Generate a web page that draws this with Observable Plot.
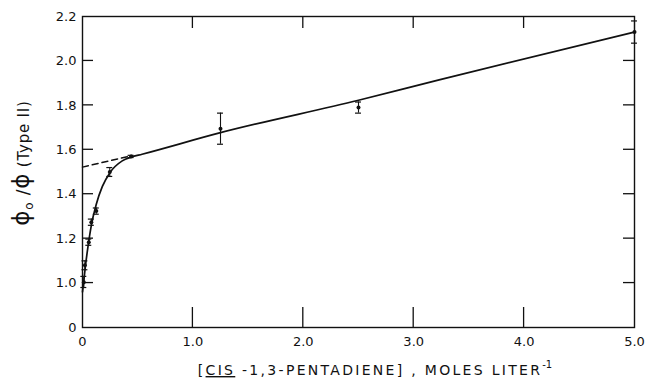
<!DOCTYPE html>
<html><head><meta charset="utf-8">
<script src="https://cdn.jsdelivr.net/npm/d3@7"></script>
<script src="https://cdn.jsdelivr.net/npm/@observablehq/plot@0.6"></script>
<style>body{margin:0;background:#fff;} svg{display:block;}</style>
</head><body><div id="chart"></div>
<script>
// Measured points (concentration, phi0/phi) with error bar ends
const ptX  = [0.012, 0.022, 0.057, 0.080, 0.125, 0.247, 0.44, 1.25, 2.50, 5.00];
const ptY  = [1.004, 1.080, 1.184, 1.274, 1.324, 1.500, 1.570, 1.695, 1.790, 2.130];
const errLo= [0.980, 1.060, 1.170, 1.260, 1.310, 1.480, 1.565, 1.625, 1.765, 2.080];
const errHi= [1.030, 1.100, 1.198, 1.288, 1.338, 1.520, 1.575, 1.765, 1.815, 2.180];
// Solid fitted curve
const curveX = [0.000, 0.012, 0.025, 0.050, 0.080, 0.125, 0.180, 0.250, 0.360, 0.440, 0.540, 1.25, 2.50, 3.23, 5.00];
const curveY = [0.960, 1.010, 1.070, 1.165, 1.260, 1.355, 1.435, 1.498, 1.550, 1.567, 1.580, 1.677, 1.823, 1.915, 2.130];
// Dashed extrapolation
const dashX = [0.00, 0.45];
const dashY = [1.522, 1.574];
// Axes
const xDomain = [0, 5];
const yDomain = [0.8, 2.2];
const xTickLabels = [0, 1, 2, 3, 4, 5];
const xTickMarks = [1, 2, 3, 4];
const yTickLabels = [0.8, 1.0, 1.2, 1.4, 1.6, 1.8, 2.0, 2.2];
const yTickMarks = [1.0, 1.2, 1.4, 1.6, 1.8, 2.0];

const pts = ptX.map((x, i) => ({x, y: ptY[i], lo: errLo[i], hi: errHi[i]}));
const curvePts = curveX.map((x, i) => ({x, y: curveY[i]}));
const dashPts = dashX.map((x, i) => ({x, y: dashY[i]}));

const W = 649, H = 382, mL = 82, mR = 15, mT = 16, mB = 55;

const plot = Plot.plot({
  width: W, height: H,
  marginLeft: mL, marginRight: mR, marginTop: mT, marginBottom: mB,
  style: {fontFamily: "DejaVu Sans", fontSize: "13px", color: "#111", background: "#fff"},
  x: {domain: xDomain},
  y: {domain: yDomain},
  marks: [
    Plot.frame({stroke: "#111", strokeWidth: 1.4}),
    Plot.axisX({ticks: xTickLabels, tickSize: 0, tickPadding: 9, label: null,
      tickFormat: d => d === 0 ? "0" : d.toFixed(1), fill: "#111"}),
    Plot.axisY({ticks: yTickLabels, tickSize: 0, tickPadding: 6, label: null,
      tickFormat: d => Math.abs(d - 0.8) < 1e-9 ? "0" : d.toFixed(1), fill: "#111"}),
    Plot.line(dashPts, {x: "x", y: "y", stroke: "#111", strokeWidth: 1.5, strokeDasharray: "6,4"}),
    Plot.line(curvePts, {x: "x", y: "y", stroke: "#111", strokeWidth: 1.7, curve: "monotone-x"}),
    Plot.ruleX(pts, {x: "x", y1: "lo", y2: "hi", stroke: "#111", strokeWidth: 1.1}),
    Plot.ruleY(pts, {y: "lo", x1: d => d.x - 0.027, x2: d => d.x + 0.027, stroke: "#111", strokeWidth: 1.2}),
    Plot.ruleY(pts, {y: "hi", x1: d => d.x - 0.027, x2: d => d.x + 0.027, stroke: "#111", strokeWidth: 1.2}),
    Plot.dot(pts, {x: "x", y: "y", r: 2, fill: "#111"})
  ]
});

const svg = d3.select(plot);
// inward tick marks positioned with Plot's own scales
const sx = plot.scale("x"), sy = plot.scale("y");
const x0 = sx.apply(xDomain[0]), x1 = sx.apply(xDomain[1]);
const y0 = sy.apply(yDomain[0]), y1 = sy.apply(yDomain[1]);
const tg = svg.append("g").attr("stroke", "#111").attr("stroke-width", 1.3);
xTickMarks.forEach(v => {
  const px = sx.apply(v);
  tg.append("line").attr("x1", px).attr("x2", px).attr("y1", y0).attr("y2", y0 - 20);
  tg.append("line").attr("x1", px).attr("x2", px).attr("y1", y1).attr("y2", y1 + 12);
});
yTickMarks.forEach(v => {
  const py = sy.apply(v);
  tg.append("line").attr("y1", py).attr("y2", py).attr("x1", x0).attr("x2", x0 + 11);
  tg.append("line").attr("y1", py).attr("y2", py).attr("x1", x1).attr("x2", x1 - 11);
});

// x axis label
const xl = svg.append("text")
  .attr("x", 375).attr("y", 375)
  .attr("text-anchor", "middle")
  .attr("font-family", "DejaVu Sans").attr("font-size", 14)
  .attr("letter-spacing", 2.3)
  .attr("fill", "#111");
xl.append("tspan").text("[");
xl.append("tspan").style("text-decoration", "underline").text("CIS");
xl.append("tspan").text(" -1,3-PENTADIENE] , MOLES LITER");
xl.append("tspan").attr("dy", -7).attr("font-size", 10).attr("letter-spacing", 0).text("-1");

// y axis label
const yl = svg.append("text")
  .attr("transform", "translate(29,163) rotate(-90)")
  .attr("text-anchor", "middle")
  .attr("font-family", "DejaVu Sans").attr("font-size", 15)
  .attr("letter-spacing", 0.8)
  .attr("fill", "#111");
yl.append("tspan").attr("font-size", 23).text("ϕ");
yl.append("tspan").attr("font-size", 12).attr("dy", 4).text("o");
yl.append("tspan").attr("dy", -4).attr("font-size", 17).text(" /");
yl.append("tspan").attr("font-size", 23).text("ϕ");
yl.append("tspan").text(" (Type II)");

document.getElementById("chart").append(plot);
</script>
</body></html>
